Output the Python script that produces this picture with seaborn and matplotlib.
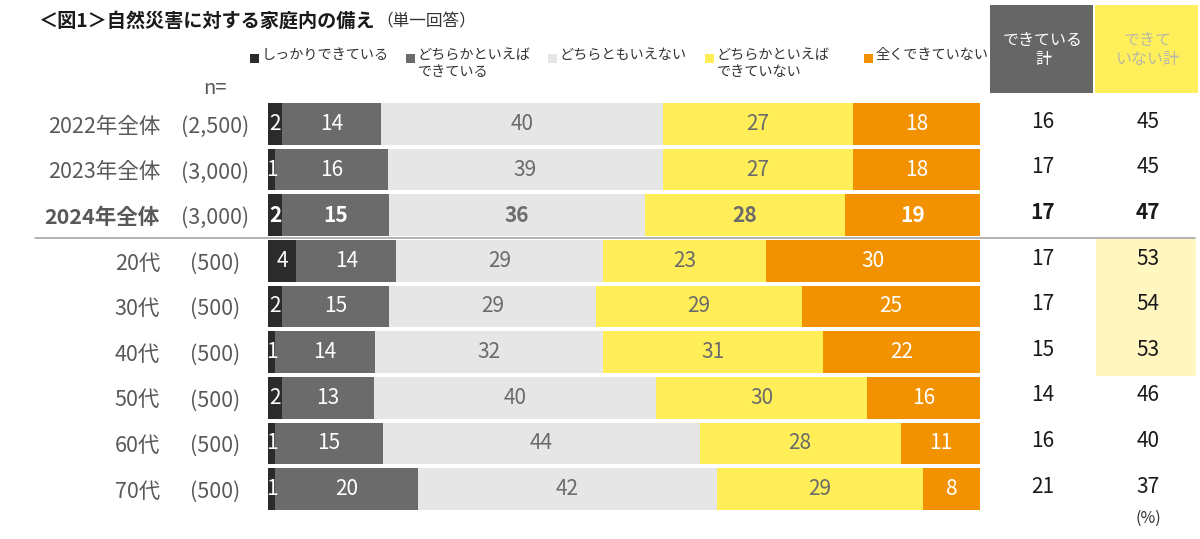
import numpy as np
import pandas as pd
import matplotlib
matplotlib.use("Agg")
import matplotlib.pyplot as plt
import seaborn as sns
from matplotlib.patches import Rectangle
from matplotlib.lines import Line2D
import matplotlib.transforms as mtrans

sns.set_theme(style="white")
plt.rcParams['font.family'] = ['Noto Sans CJK JP', 'DejaVu Sans']

# ---- data ----
rows = ["2022年全体", "2023年全体", "2024年全体", "20代", "30代", "40代", "50代", "60代", "70代"]
n_labels = ["(2,500)", "(3,000)", "(3,000)", "(500)", "(500)", "(500)", "(500)", "(500)", "(500)"]
s_firm = [2, 1, 2, 4, 2, 1, 2, 1, 1]          # しっかりできている
s_some = [14, 16, 15, 14, 15, 14, 13, 15, 20]  # どちらかといえばできている
s_neut = [40, 39, 36, 29, 29, 32, 40, 44, 42]  # どちらともいえない
s_lean = [27, 27, 28, 23, 29, 31, 30, 28, 29]  # どちらかといえばできていない
s_none = [18, 18, 19, 30, 25, 22, 16, 11, 8]   # 全くできていない
done_total = [16, 17, 17, 17, 17, 15, 14, 16, 21]
notdone_total = [45, 45, 47, 53, 54, 53, 46, 40, 37]
legend_labels = ["しっかりできている", "どちらかといえば\nできている", "どちらともいえない",
                 "どちらかといえば\nできていない", "全くできていない"]

colors = ["#2b2b2b", "#6b6b6b", "#e6e6e6", "#ffee58", "#f39200"]
txt_colors = ["white", "white", "#6b6b6b", "#6b6b6b", "white"]

series = np.array([s_firm, s_some, s_neut, s_lean, s_none], dtype=float)
shares = series / series.sum(axis=0) * 100
cum = np.cumsum(shares, axis=0)

df = pd.DataFrame({"row": rows})
for i in range(5):
    df[f"c{i}"] = cum[i]

W, H = 1200, 539
fig = plt.figure(figsize=(W / 100, H / 100), dpi=100)
ax = fig.add_axes([268 / W, 1 - 511.8 / H, 712 / W, 410.6 / H])

for i in reversed(range(5)):
    sns.barplot(data=df, x=f"c{i}", y="row", order=rows, orient="h", color=colors[i],
                saturation=1, width=0.91, errorbar=None, linewidth=0, ax=ax)

ax.set_xlim(0, 100)
ax.set_ylim(8.5, -0.5)
ax.axis("off")

# segment labels
for r in range(len(rows)):
    bold = (r == 2)
    for i in range(5):
        left = cum[i, r] - shares[i, r]
        ax.text(left + shares[i, r] / 2, r, str(int(series[i, r])), ha="center", va="center",
                fontsize=15, color=txt_colors[i], fontweight="bold" if bold else "normal")

# row labels and right columns
tr = mtrans.blended_transform_factory(fig.transFigure, ax.transData)
for r in range(len(rows)):
    bold = (r == 2)
    fw = "bold" if bold else "normal"
    fig.text(160 / W, r + 0.06, rows[r], transform=tr, ha="right", va="center",
             fontsize=15.5, color="#595959", fontweight=fw)
    fig.text(215 / W, r + 0.06, n_labels[r], transform=tr, ha="center", va="center",
             fontsize=15.5, color="#595959")

# highlight for 20-40代 not-done column
fig.add_artist(Rectangle((1096 / W, 2.52), 100 / W, 3.0, transform=tr,
                         facecolor="#fff6c0", edgecolor="none", zorder=0))

for r in range(len(rows)):
    fw = "bold" if r == 2 else "normal"
    fig.text(1043 / W, r - 0.05, str(done_total[r]), transform=tr, ha="center", va="center",
             fontsize=15, color="#1a1a1a", fontweight=fw)
    fig.text(1148 / W, r - 0.05, str(notdone_total[r]), transform=tr, ha="center", va="center",
             fontsize=15, color="#1a1a1a", fontweight=fw)

# separator line
fig.add_artist(Line2D([35 / W, 1195 / W], [2.5, 2.5], transform=tr, color="#a6a6a6", lw=1.2))

# header boxes
fig.add_artist(Rectangle((990 / W, 1 - 93 / H), 103 / W, 88 / H, transform=fig.transFigure,
                         facecolor="#666666", edgecolor="none"))
fig.add_artist(Rectangle((1095 / W, 1 - 93 / H), 103 / W, 88 / H, transform=fig.transFigure,
                         facecolor="#ffef5b", edgecolor="none"))
fig.text(1043 / W, 1 - 50 / H, "できている\n計", ha="center", va="center", fontsize=11.5,
         color="white", linespacing=1.1)
fig.text(1148 / W, 1 - 50 / H, "できて\nいない計", ha="center", va="center", fontsize=11.5,
         color="#b8b8a8", linespacing=1.1)

# title
fig.text(38 / W, 1 - 21 / H, "＜図1＞自然災害に対する家庭内の備え", ha="left", va="center",
         fontsize=13.8, fontweight="bold", color="#1a1a1a")
fig.text(376 / W, 1 - 22 / H, "（単一回答）", ha="left", va="center", fontsize=12, color="#333333")

# legend
leg_sq_x = [250, 406, 548, 705, 864]
for i in range(5):
    fig.add_artist(Rectangle((leg_sq_x[i] / W, 1 - 63 / H), 9 / W, 9 / H,
                             transform=fig.transFigure, facecolor=colors[i], edgecolor="none"))
    fig.text((leg_sq_x[i] + 12) / W, 1 - 48 / H, legend_labels[i], ha="left", va="top",
             fontsize=10.2, color="#333333", linespacing=1.25)

fig.text(215 / W, 1 - 88 / H, "n=", ha="center", va="center", fontsize=14.5, color="#595959")
fig.text(1148 / W, 1 - 518 / H, "(%)", ha="center", va="center", fontsize=11.5, color="#333333")

fig.savefig("out.png", dpi=100)
